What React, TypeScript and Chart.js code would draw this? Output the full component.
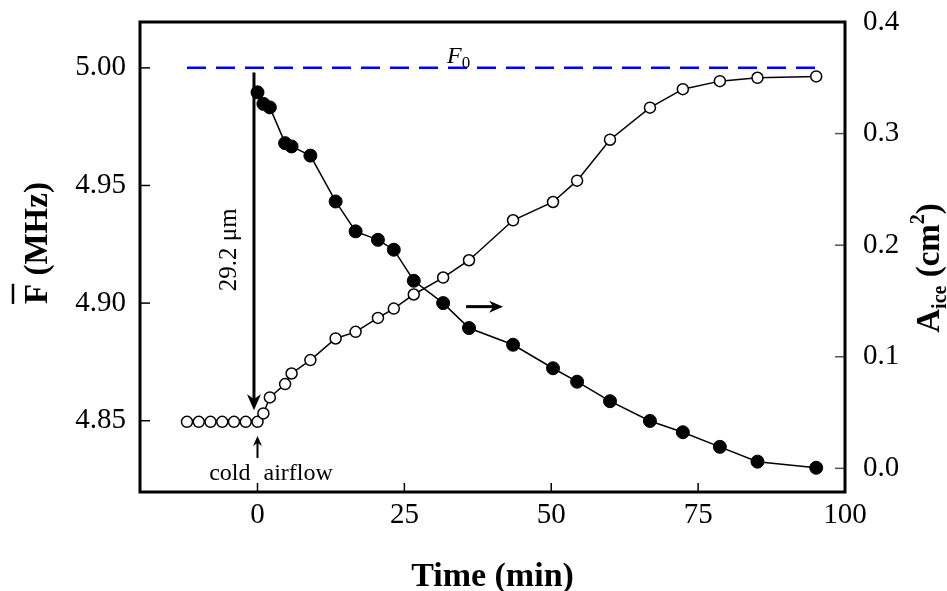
import React, { useEffect, useRef } from "react";
import { Chart, registerables } from "chart.js";

Chart.register(...registerables);

// ---- data ----
const PRE_TIMES = [-12, -10, -8, -6, -4, -2];
const PRE_AREA = [0.0417, 0.0417, 0.0417, 0.0417, 0.0417, 0.0417];
const TIMES = [0, 1.0, 2.1, 4.7, 5.8, 9.0, 13.3, 16.7, 20.5, 23.2, 26.6, 31.6, 36.0, 43.5, 50.3, 54.4, 60.0, 66.8, 72.4, 78.7, 85.1, 95.1];
const FREQ = [4.9896, 4.9847, 4.9832, 4.968, 4.9666, 4.9627, 4.9432, 4.9305, 4.9269, 4.9227, 4.9095, 4.900, 4.8894, 4.8823, 4.8723, 4.8666, 4.8583, 4.8499, 4.8451, 4.8389, 4.8326, 4.830];
const AREA = [0.0417, 0.0492, 0.0636, 0.0755, 0.085, 0.097, 0.1164, 0.1223, 0.1348, 0.1432, 0.1558, 0.171, 0.1865, 0.2223, 0.2387, 0.2578, 0.2945, 0.3232, 0.3398, 0.347, 0.350, 0.3512];
const F0_TIMES = [-12, 95.4];
const F0_VALUE = 5.0;

const X_TICKS = [0, 25, 50, 75, 100];
const LEFT_TICKS = [4.85, 4.9, 4.95, 5.0];
const RIGHT_TICKS = [0.0, 0.1, 0.2, 0.3, 0.4];

// annotation anchors (data units)
const SHIFT_ARROW_T = -0.6;
const SHIFT_ARROW_FROM = 4.998;
const SHIFT_ARROW_TO = 4.8545;
const SHIFT_LABEL = "29.2 \u03bcm";
const SHIFT_LABEL_T = -3.7;
const SHIFT_LABEL_F = 4.9227;

const SERIF = "'Liberation Serif', 'Times New Roman', serif";

function arrowHead(ctx: CanvasRenderingContext2D, x: number, y: number, dx: number, dy: number, len: number, half: number) {
  const px = -dy, py = dx;
  ctx.beginPath();
  ctx.moveTo(x, y);
  ctx.lineTo(x - dx * len + px * half, y - dy * len + py * half);
  ctx.lineTo(x - dx * len * 0.7, y - dy * len * 0.7);
  ctx.lineTo(x - dx * len - px * half, y - dy * len - py * half);
  ctx.closePath();
  ctx.fill();
}

const decorPlugin = {
  id: "decor",
  afterDraw(chart: any) {
    const ctx: CanvasRenderingContext2D = chart.ctx;
    const { left, right, top, bottom } = chart.chartArea;
    const xs = chart.scales.x;
    const yl = chart.scales.y;
    const yr = chart.scales.y2;
    ctx.save();
    ctx.fillStyle = "#000";
    ctx.strokeStyle = "#000";

    // inward ticks
    ctx.lineWidth = 1.5;
    X_TICKS.forEach((v) => {
      const px = xs.getPixelForValue(v);
      ctx.beginPath();
      ctx.moveTo(px, bottom);
      ctx.lineTo(px, bottom - 9);
      ctx.stroke();
    });
    LEFT_TICKS.forEach((v) => {
      const py = yl.getPixelForValue(v);
      ctx.beginPath();
      ctx.moveTo(left, py);
      ctx.lineTo(left + 10, py);
      ctx.stroke();
    });
    ctx.strokeStyle = "#555";
    RIGHT_TICKS.forEach((v) => {
      const py = yr.getPixelForValue(v);
      ctx.beginPath();
      ctx.moveTo(right, py);
      ctx.lineTo(right - 10, py);
      ctx.stroke();
    });
    ctx.strokeStyle = "#000";

    // frame
    ctx.lineWidth = 3;
    ctx.strokeRect(left, top, right - left, bottom - top);

    // vertical shift arrow
    const ax = xs.getPixelForValue(SHIFT_ARROW_T);
    const ay1 = yl.getPixelForValue(SHIFT_ARROW_FROM);
    const ay2 = yl.getPixelForValue(SHIFT_ARROW_TO);
    ctx.lineWidth = 3;
    ctx.beginPath();
    ctx.moveTo(ax, ay1);
    ctx.lineTo(ax, ay2 - 10);
    ctx.stroke();
    arrowHead(ctx, ax, ay2, 0, 1, 16, 7);

    // shift label
    ctx.save();
    ctx.translate(xs.getPixelForValue(SHIFT_LABEL_T), yl.getPixelForValue(SHIFT_LABEL_F));
    ctx.rotate(-Math.PI / 2);
    ctx.font = `25px ${SERIF}`;
    ctx.textAlign = "center";
    ctx.textBaseline = "alphabetic";
    ctx.fillText(SHIFT_LABEL, 0, 0);
    ctx.restore();

    // right pointing arrow (series marker for right axis)
    const rx1 = xs.getPixelForValue(35.5);
    const rx2 = xs.getPixelForValue(41.8);
    const ry = yl.getPixelForValue(4.8985);
    ctx.lineWidth = 3;
    ctx.beginPath();
    ctx.moveTo(rx1, ry);
    ctx.lineTo(rx2 - 8, ry);
    ctx.stroke();
    arrowHead(ctx, rx2, ry, 1, 0, 14, 6);

    // cold airflow
    const cx = xs.getPixelForValue(0);
    ctx.lineWidth = 2;
    ctx.beginPath();
    ctx.moveTo(cx, 458);
    ctx.lineTo(cx, 442);
    ctx.stroke();
    arrowHead(ctx, cx, 436, 0, -1, 10, 4.5);
    ctx.font = `24px ${SERIF}`;
    ctx.textBaseline = "alphabetic";
    ctx.textAlign = "right";
    ctx.fillText("cold", cx - 7, 480);
    ctx.textAlign = "left";
    ctx.fillText("airflow", cx + 6, 480);

    // F0 label
    ctx.font = `italic 24px ${SERIF}`;
    ctx.textAlign = "left";
    const fx = 447;
    ctx.fillText("F", fx, 63);
    const fw = ctx.measureText("F").width;
    ctx.font = `17px ${SERIF}`;
    ctx.fillText("0", fx + fw, 68);

    // x title
    ctx.font = `bold 34px ${SERIF}`;
    ctx.textAlign = "center";
    ctx.fillText("Time (min)", (left + right) / 2, 586);

    // left title with overline
    ctx.save();
    ctx.translate(47, 243);
    ctx.rotate(-Math.PI / 2);
    ctx.font = `bold 33px ${SERIF}`;
    ctx.textAlign = "left";
    const ltxt = "F (MHz)";
    const lw = ctx.measureText(ltxt).width;
    const fW = ctx.measureText("F").width;
    ctx.fillText(ltxt, -lw / 2, 0);
    ctx.lineWidth = 2.5;
    ctx.beginPath();
    ctx.moveTo(-lw / 2, -34);
    ctx.lineTo(-lw / 2 + fW, -34);
    ctx.stroke();
    ctx.restore();

    // right title A_ice (cm^2)
    ctx.save();
    ctx.translate(939, 268);
    ctx.rotate(-Math.PI / 2);
    ctx.textAlign = "left";
    const big = `bold 33px ${SERIF}`;
    const small = `bold 20px ${SERIF}`;
    const parts: [string, string, number][] = [
      ["A", big, 0],
      ["ice", small, 7],
      [" (cm", big, 0],
      ["2", small, -15],
      [")", big, 0],
    ];
    let total = 0;
    parts.forEach(([t, f]) => {
      ctx.font = f;
      total += ctx.measureText(t).width;
    });
    let u = -total / 2;
    parts.forEach(([t, f, dv]) => {
      ctx.font = f;
      ctx.fillText(t, u, dv);
      u += ctx.measureText(t).width;
    });
    ctx.restore();

    ctx.restore();
  },
};

function zeroPad(s: any) {
  s.paddingTop = 0;
  s.paddingBottom = 0;
  s.paddingLeft = 0;
  s.paddingRight = 0;
}

export default function App() {
  const ref = useRef<HTMLCanvasElement | null>(null);
  useEffect(() => {
    if (!ref.current) return;
    const tickFont = { family: SERIF, size: 29 };
    const chart = new Chart(ref.current, {
      type: "line",
      data: {
        datasets: [
          {
            label: "F",
            data: TIMES.map((t, i) => ({ x: t, y: FREQ[i] })),
            yAxisID: "y",
            borderColor: "#000",
            borderWidth: 1.5,
            pointRadius: 6.5,
            pointBackgroundColor: "#000",
            pointBorderColor: "#000",
            pointBorderWidth: 1,
            tension: 0,
          },
          {
            label: "A",
            data: [...PRE_TIMES, ...TIMES].map((t, i) => ({ x: t, y: [...PRE_AREA, ...AREA][i] })),
            yAxisID: "y2",
            borderColor: "#000",
            borderWidth: 1.5,
            pointRadius: 5.5,
            pointBackgroundColor: "#fff",
            pointBorderColor: "#000",
            pointBorderWidth: 1.5,
            tension: 0,
          },
          {
            label: "F0",
            data: F0_TIMES.map((t) => ({ x: t, y: F0_VALUE })),
            yAxisID: "y",
            borderColor: "#0000ff",
            borderWidth: 2.5,
            borderDash: [19, 10],
            pointRadius: 0,
            tension: 0,
          },
        ],
      },
      options: {
        animation: false,
        responsive: true,
        maintainAspectRatio: false,
        layout: { padding: { top: 22, left: 0, right: 0, bottom: 0 } },
        plugins: { legend: { display: false }, tooltip: { enabled: false } },
        scales: {
          x: {
            type: "linear",
            min: -20,
            max: 100,
            grid: { display: false, drawTicks: false },
            border: { display: false },
            afterBuildTicks: (s: any) => { s.ticks = X_TICKS.map((v) => ({ value: v })); },
            afterFit: (s: any) => { s.height = 99; zeroPad(s); },
            ticks: { font: tickFont, color: "#000", padding: 6, maxRotation: 0, autoSkip: false, callback: (v: any) => String(v) },
          },
          y: {
            type: "linear",
            position: "left",
            min: 4.8197,
            max: 5.0195,
            grid: { display: false, drawTicks: false },
            border: { display: false },
            afterBuildTicks: (s: any) => { s.ticks = LEFT_TICKS.map((v) => ({ value: v })); },
            afterFit: (s: any) => { s.width = 140; zeroPad(s); },
            ticks: { font: tickFont, color: "#000", padding: 14, autoSkip: false, callback: (v: any) => Number(v).toFixed(2) },
          },
          y2: {
            type: "linear",
            position: "right",
            min: -0.0212,
            max: 0.4,
            grid: { display: false, drawTicks: false },
            border: { display: false },
            afterBuildTicks: (s: any) => { s.ticks = RIGHT_TICKS.map((v) => ({ value: v })); },
            afterFit: (s: any) => { s.width = 102; zeroPad(s); },
            ticks: { font: tickFont, color: "#000", padding: 18, autoSkip: false, callback: (v: any) => Number(v).toFixed(1) },
          },
        },
      },
      plugins: [decorPlugin],
    } as any);
    return () => chart.destroy();
  }, []);
  return (
    <div style={{ position: "fixed", left: 0, top: 0, width: 947, height: 591, background: "#fff" }}>
      <canvas ref={ref} />
    </div>
  );
}
